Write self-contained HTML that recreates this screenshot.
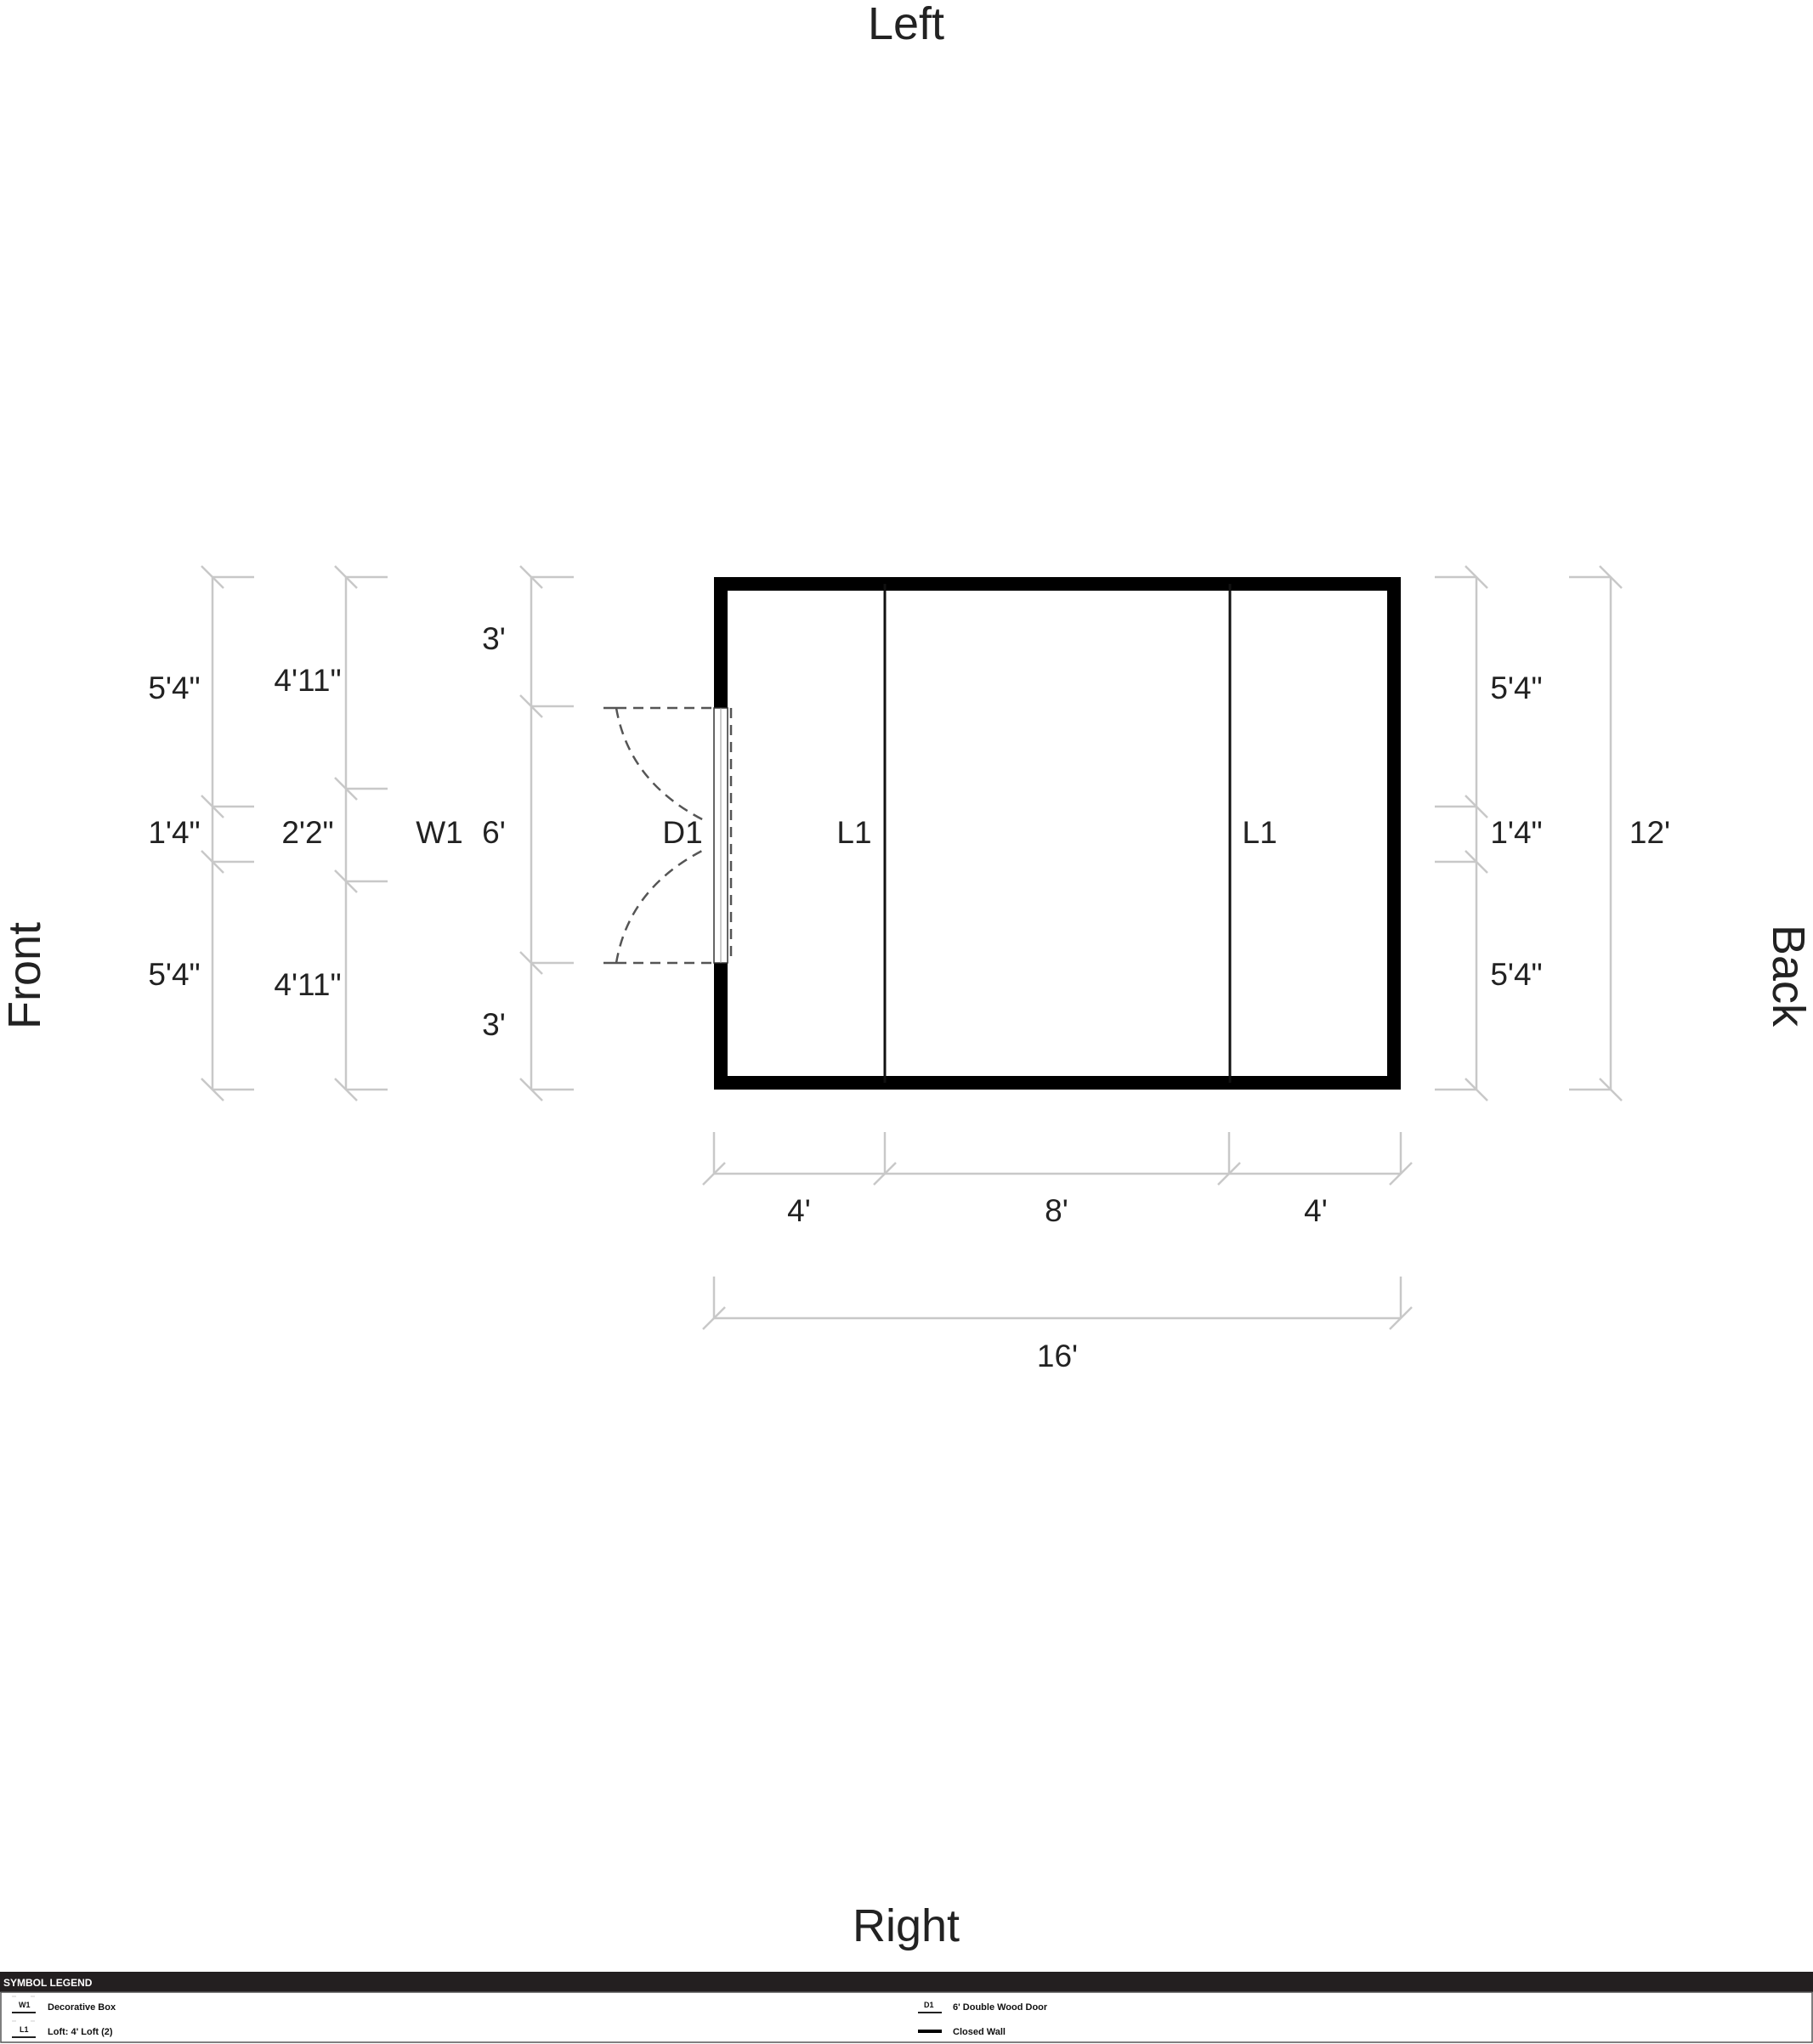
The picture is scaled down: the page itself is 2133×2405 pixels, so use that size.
<!DOCTYPE html>
<html><head><meta charset="utf-8"><style>
html,body{margin:0;padding:0;background:#fff;}
svg{display:block;}
.d{stroke:#c8c8c8;stroke-width:2.5;fill:none;}
.t{font-family:"Liberation Sans",sans-serif;font-size:37px;fill:#222;text-anchor:middle;}
.b{font-family:"Liberation Sans",sans-serif;font-size:54px;fill:#222;text-anchor:middle;}
.lg{font-family:"Liberation Sans Narrow","Liberation Sans",sans-serif;font-size:11px;font-weight:bold;fill:#111;}
</style></head><body>
<svg width="2133" height="2405" viewBox="0 0 2133 2405" xmlns="http://www.w3.org/2000/svg">
<rect width="2133" height="2405" fill="#fff"/>
<!-- orientation labels -->
<text class="b" x="1066" y="46">Left</text>
<text class="b" x="1066" y="2284">Right</text>
<text class="b" transform="translate(47,1148) rotate(-90)">Front</text>
<text class="b" transform="translate(2086,1148) rotate(90)">Back</text>

<!-- left vertical dims -->
<g class="d">
<!-- col1 x=250 -->
<line x1="250" y1="679" x2="250" y2="1282"/>
<line x1="250" y1="679" x2="299" y2="679"/><line x1="250" y1="949" x2="299" y2="949"/><line x1="250" y1="1014" x2="299" y2="1014"/><line x1="250" y1="1282" x2="299" y2="1282"/>
<line x1="237" y1="666" x2="263" y2="692"/><line x1="237" y1="936" x2="263" y2="962"/><line x1="237" y1="1001" x2="263" y2="1027"/><line x1="237" y1="1269" x2="263" y2="1295"/>
<!-- col2 x=407 -->
<line x1="407" y1="679" x2="407" y2="1282"/>
<line x1="407" y1="679" x2="456" y2="679"/><line x1="407" y1="928" x2="456" y2="928"/><line x1="407" y1="1037" x2="456" y2="1037"/><line x1="407" y1="1282" x2="456" y2="1282"/>
<line x1="394" y1="666" x2="420" y2="692"/><line x1="394" y1="915" x2="420" y2="941"/><line x1="394" y1="1024" x2="420" y2="1050"/><line x1="394" y1="1269" x2="420" y2="1295"/>
<!-- col3 x=625 -->
<line x1="625" y1="679" x2="625" y2="1282"/>
<line x1="625" y1="679" x2="675" y2="679"/><line x1="625" y1="831" x2="675" y2="831"/><line x1="625" y1="1133" x2="675" y2="1133"/><line x1="625" y1="1282" x2="675" y2="1282"/>
<line x1="612" y1="666" x2="638" y2="692"/><line x1="612" y1="818" x2="638" y2="844"/><line x1="612" y1="1120" x2="638" y2="1146"/><line x1="612" y1="1269" x2="638" y2="1295"/>
<!-- right col1 x=1737 -->
<line x1="1737" y1="679" x2="1737" y2="1282"/>
<line x1="1688" y1="679" x2="1737" y2="679"/><line x1="1688" y1="949" x2="1737" y2="949"/><line x1="1688" y1="1014" x2="1737" y2="1014"/><line x1="1688" y1="1282" x2="1737" y2="1282"/>
<line x1="1724" y1="666" x2="1750" y2="692"/><line x1="1724" y1="936" x2="1750" y2="962"/><line x1="1724" y1="1001" x2="1750" y2="1027"/><line x1="1724" y1="1269" x2="1750" y2="1295"/>
<!-- right col2 x=1895 -->
<line x1="1895" y1="679" x2="1895" y2="1282"/>
<line x1="1846" y1="679" x2="1895" y2="679"/><line x1="1846" y1="1282" x2="1895" y2="1282"/>
<line x1="1882" y1="666" x2="1908" y2="692"/><line x1="1882" y1="1269" x2="1908" y2="1295"/>
<!-- bottom dims -->
<line x1="840" y1="1381" x2="1648" y2="1381"/>
<line x1="840" y1="1332" x2="840" y2="1381"/><line x1="1041" y1="1332" x2="1041" y2="1381"/><line x1="1446" y1="1332" x2="1446" y2="1381"/><line x1="1648" y1="1332" x2="1648" y2="1381"/>
<line x1="827" y1="1394" x2="853" y2="1368"/><line x1="1028" y1="1394" x2="1054" y2="1368"/><line x1="1433" y1="1394" x2="1459" y2="1368"/><line x1="1635" y1="1394" x2="1661" y2="1368"/>
<line x1="840" y1="1551" x2="1648" y2="1551"/>
<line x1="840" y1="1502" x2="840" y2="1551"/><line x1="1648" y1="1502" x2="1648" y2="1551"/>
<line x1="827" y1="1564" x2="853" y2="1538"/><line x1="1635" y1="1564" x2="1661" y2="1538"/>
</g>

<!-- walls -->
<rect x="848" y="687" width="792" height="587" fill="none" stroke="#000" stroke-width="16"/>
<line x1="1041" y1="687" x2="1041" y2="1274" stroke="#111" stroke-width="3"/>
<line x1="1447" y1="687" x2="1447" y2="1274" stroke="#111" stroke-width="3"/>

<!-- door -->
<rect x="840" y="833" width="16" height="300" fill="#fff" stroke="#333" stroke-width="1.5"/>
<line x1="848" y1="833" x2="848" y2="1133" stroke="#999" stroke-width="1"/>
<g stroke="#555" stroke-width="2.5" fill="none">
<line x1="710" y1="833" x2="725" y2="833"/>
<line x1="710" y1="1133" x2="725" y2="1133"/>
</g>
<g stroke="#555" stroke-width="2.5" fill="none" stroke-dasharray="12,8">
<line x1="725" y1="833" x2="840" y2="833"/>
<line x1="725" y1="1133" x2="840" y2="1133"/>
<line x1="860" y1="833" x2="860" y2="1133"/>
<path d="M725,833 Q740,920 828,965"/>
<path d="M725,1133 Q740,1045 828,1000"/>
</g>

<!-- labels -->
<text class="t" x="205" y="822">5'4"</text>
<text class="t" x="362" y="813">4'11"</text>
<text class="t" x="581" y="764">3'</text>
<text class="t" x="205" y="992">1'4"</text>
<text class="t" x="362" y="992">2'2"</text>
<text class="t" x="517" y="992">W1</text>
<text class="t" x="581" y="992">6'</text>
<text class="t" x="803" y="992">D1</text>
<text class="t" x="1005" y="992">L1</text>
<text class="t" x="1482" y="992">L1</text>
<text class="t" x="205" y="1159">5'4"</text>
<text class="t" x="362" y="1171">4'11"</text>
<text class="t" x="581" y="1218">3'</text>
<text class="t" x="1784" y="822">5'4"</text>
<text class="t" x="1784" y="992">1'4"</text>
<text class="t" x="1784" y="1159">5'4"</text>
<text class="t" x="1941" y="992">12'</text>
<text class="t" x="940" y="1437">4'</text>
<text class="t" x="1243" y="1437">8'</text>
<text class="t" x="1548" y="1437">4'</text>
<text class="t" x="1244" y="1608">16'</text>

<!-- legend -->
<rect x="0" y="2320" width="2133" height="24" fill="#231f20"/>
<text x="4" y="2337" style="font-family:'Liberation Sans Narrow','Liberation Sans',sans-serif;font-size:12px;font-weight:bold;fill:#fff">SYMBOL LEGEND</text>
<rect x="1" y="2344" width="2131" height="59" fill="#fff" stroke="#555" stroke-width="1.5"/>
<g stroke="#ccc" stroke-width="1"><line x1="14" y1="2349" x2="19" y2="2349"/><line x1="36" y1="2349" x2="41" y2="2349"/><line x1="14" y1="2378" x2="19" y2="2378"/><line x1="36" y1="2378" x2="41" y2="2378"/></g>
<text class="lg" x="22" y="2362" style="font-size:9px">W1</text>
<line x1="14" y1="2368" x2="42" y2="2368" stroke="#222" stroke-width="2"/>
<text class="lg" x="56" y="2365">Decorative Box</text>
<text class="lg" x="23" y="2391" style="font-size:9px">L1</text>
<line x1="14" y1="2397" x2="42" y2="2397" stroke="#222" stroke-width="2"/>
<text class="lg" x="56" y="2394">Loft: 4' Loft (2)</text>
<text class="lg" x="1087" y="2362" style="font-size:9px">D1</text>
<line x1="1080" y1="2368" x2="1108" y2="2368" stroke="#222" stroke-width="2"/>
<text class="lg" x="1121" y="2365">6' Double Wood Door</text>
<line x1="1080" y1="2390" x2="1108" y2="2390" stroke="#000" stroke-width="4"/>
<text class="lg" x="1121" y="2394">Closed Wall</text>
</svg>
</body></html>
